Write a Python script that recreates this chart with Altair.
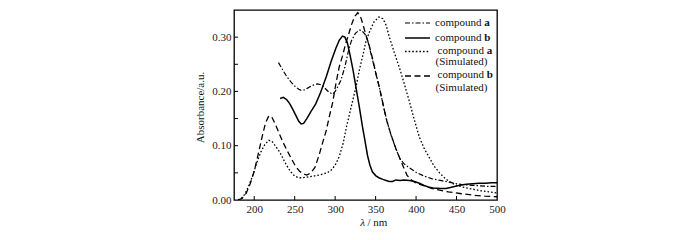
import altair as alt
import pandas as pd

# ---------------- data ----------------
a_nm = [230, 235, 240, 245, 250, 255, 258, 262, 267, 272, 278, 283, 288, 292, 297, 300,
        303, 307, 312, 316, 320, 325, 330, 333, 337, 340, 345, 350, 355, 360, 365, 370,
        375, 380, 385, 390, 400, 410, 420, 430, 440, 450, 460, 470, 480, 490, 500]
a_abs = [0.253, 0.240, 0.228, 0.218, 0.210, 0.204, 0.202, 0.203, 0.207, 0.211, 0.214, 0.212,
         0.205, 0.199, 0.195, 0.200, 0.208, 0.220, 0.245, 0.272, 0.293, 0.307, 0.313, 0.312,
         0.305, 0.295, 0.265, 0.235, 0.205, 0.170, 0.140, 0.115, 0.095, 0.076, 0.067, 0.061,
         0.051, 0.044, 0.039, 0.036, 0.033, 0.030, 0.028, 0.027, 0.026, 0.025, 0.025]

b_nm = [232, 236, 240, 244, 248, 252, 255, 258, 261, 265, 270, 276, 282, 289, 295, 301,
        305, 309, 312, 315, 318, 322, 326, 330, 334, 337, 340, 343, 346, 350, 354, 359,
        363, 367, 371, 375, 380, 385, 392, 398, 404, 410, 415, 421, 430, 437, 445, 454,
        462, 470, 478, 486, 493, 500]
b_abs = [0.187, 0.189, 0.185, 0.177, 0.166, 0.154, 0.145, 0.140, 0.141, 0.150, 0.163, 0.177,
         0.198, 0.227, 0.255, 0.280, 0.294, 0.302, 0.300, 0.290, 0.270, 0.240, 0.205, 0.170,
         0.133, 0.108, 0.082, 0.064, 0.052, 0.045, 0.041, 0.038, 0.036, 0.034, 0.034, 0.037,
         0.036, 0.037, 0.036, 0.034, 0.031, 0.027, 0.024, 0.022, 0.021, 0.021, 0.024, 0.027,
         0.029, 0.030, 0.031, 0.031, 0.032, 0.032]

asim_nm = [180, 184, 188, 193, 198, 203, 208, 213, 218, 222, 226, 232, 236, 240, 245, 250,
           255, 260, 265, 273, 280, 285, 290, 295, 300, 305, 310, 314, 318, 322, 326, 330,
           334, 338, 343, 348, 354, 359, 363, 367, 373, 380, 386, 392, 398, 404, 410, 416,
           422, 429, 435, 441, 450, 460, 470, 480, 490, 500]
asim_abs = [0.000, 0.003, 0.010, 0.025, 0.045, 0.068, 0.088, 0.102, 0.110, 0.108, 0.100, 0.087,
            0.075, 0.064, 0.052, 0.044, 0.041, 0.041, 0.042, 0.044, 0.046, 0.048, 0.050, 0.055,
            0.064, 0.080, 0.105, 0.135, 0.160, 0.185, 0.210, 0.240, 0.265, 0.292, 0.312, 0.328,
            0.337, 0.334, 0.322, 0.300, 0.272, 0.241, 0.211, 0.180, 0.147, 0.116, 0.095, 0.079,
            0.063, 0.050, 0.041, 0.034, 0.027, 0.023, 0.020, 0.017, 0.015, 0.013]

bsim_nm = [180, 185, 190, 195, 200, 205, 210, 214, 218, 222, 226, 231, 236, 241, 246, 251,
           256, 261, 265, 270, 275, 280, 285, 289, 293, 297, 301, 305, 309, 313, 316, 320,
           324, 328, 332, 335, 338, 342, 346, 350, 355, 359, 363, 367, 371, 375, 379, 384,
           389, 395, 400, 410, 420, 429, 440, 454, 470, 485, 500]
bsim_abs = [0.000, 0.003, 0.012, 0.030, 0.053, 0.085, 0.118, 0.142, 0.155, 0.152, 0.140, 0.122,
            0.105, 0.090, 0.076, 0.062, 0.053, 0.048, 0.046, 0.050, 0.060, 0.082, 0.108, 0.128,
            0.155, 0.180, 0.215, 0.245, 0.265, 0.288, 0.302, 0.322, 0.338, 0.345, 0.335, 0.320,
            0.304, 0.285, 0.262, 0.235, 0.205, 0.178, 0.150, 0.130, 0.112, 0.095, 0.080, 0.062,
            0.045, 0.036, 0.031, 0.026, 0.021, 0.018, 0.015, 0.012, 0.009, 0.007, 0.006]

x_ticks = [200, 250, 300, 350, 400, 450, 500]
y_labels = [0.0, 0.1, 0.2, 0.3]
y_ticks = [0.05, 0.10, 0.15, 0.20, 0.25, 0.30]
x_minor = [200, 250, 300, 350, 400, 450]

legend_a = "compound"
legend_sim = "(Simulated)"

# ---------------- chart ----------------
W, H = 263, 190
FONT = "Liberation Serif, Times New Roman, DejaVu Serif, serif"
xs = alt.Scale(domain=[175, 500], nice=False, zero=False)
ys = alt.Scale(domain=[0, 0.35], nice=False)

DASHDOT = [5, 2, 1.5, 2]
DOTTED = [1.6, 2]
DASHED = [6, 3.5]


def series(nm, ab, dash, width):
    df = pd.DataFrame({"nm": nm, "abs": ab})
    kw = dict(color="black", strokeWidth=width, clip=True)
    if dash:
        kw["strokeDash"] = dash
    return alt.Chart(df).mark_line(**kw).encode(
        x=alt.X("nm:Q", scale=xs,
                axis=alt.Axis(values=x_ticks, title=None, ticks=False, tickSize=0,
                              domain=False, grid=False, labelPadding=3, format="d",
                              labelFlush=False, labelOverlap=False,
                              labelFont=FONT, labelFontSize=11, labelColor="#222")),
        y=alt.Y("abs:Q", scale=ys,
                axis=alt.Axis(values=y_labels, title=None, ticks=False, tickSize=0,
                              domain=False, grid=False, labelPadding=3, format=".2f",
                              labelFlush=False, labelOverlap=False,
                              labelFont=FONT, labelFontSize=11, labelColor="#222")),
    )


one = alt.Data(values=[{}])


def txt(s, x, y, weight="normal", style="normal", align="left", angle=0, size=11):
    kw = dict(text=s, font=FONT, fontSize=size, fontWeight=weight, fontStyle=style,
              align=align, baseline="middle", color="#111")
    if angle:
        kw["angle"] = angle
    return alt.Chart(one).mark_text(**kw).encode(x=alt.value(x), y=alt.value(y))


def leg_line(y, dash, width):
    kw = dict(color="black", strokeWidth=width)
    if dash:
        kw["strokeDash"] = dash
    return alt.Chart(one).mark_rule(**kw).encode(
        x=alt.value(171), x2=alt.value(196), y=alt.value(y))


yt = alt.Chart(pd.DataFrame({"v": y_ticks})).mark_rule(color="black", strokeWidth=1).encode(
    y=alt.Y("v:Q", scale=ys), x=alt.value(0), x2=alt.value(4))
xt = alt.Chart(pd.DataFrame({"v": x_minor})).mark_rule(color="black", strokeWidth=1).encode(
    x=alt.X("v:Q", scale=xs), y=alt.value(H), y2=alt.value(H - 4))

layers = [
    series(asim_nm, asim_abs, DOTTED, 1.3),
    series(bsim_nm, bsim_abs, DASHED, 1.3),
    series(a_nm, a_abs, DASHDOT, 1.2),
    series(b_nm, b_abs, None, 1.5),
    yt, xt,
    # legend
    leg_line(13, DASHDOT, 1.2),
    leg_line(28, None, 1.5),
    leg_line(41.5, DOTTED, 1.3),
    leg_line(66, DASHED, 1.3),
    txt(legend_a, 201, 13), txt("a", 250.2, 13, weight="bold"),
    txt(legend_a, 201, 28), txt("b", 250.2, 28, weight="bold"),
    txt(legend_a, 203.5, 40.5), txt("a", 252.7, 40.5, weight="bold"),
    txt(legend_sim, 201.5, 52),
    txt(legend_a, 203.5, 65), txt("b", 252.7, 65, weight="bold"),
    txt(legend_sim, 201.5, 77.5),
    # axis titles
    txt("Absorbance/a.u.", -33.5, 97.5, align="center", angle=270),
    txt("λ", 131, 213, style="italic", align="right"),
    txt("/ nm", 133.5, 213),
]

chart = alt.layer(*layers).properties(
    width=W, height=H,
    autosize=alt.AutoSizeParams(type="none"),
    padding={"left": 234, "top": 10, "right": 203, "bottom": 40},
    background="white",
).configure_view(stroke="black", strokeWidth=1.3)

chart.save("out.html", embed_options={"renderer": "svg", "actions": False})
